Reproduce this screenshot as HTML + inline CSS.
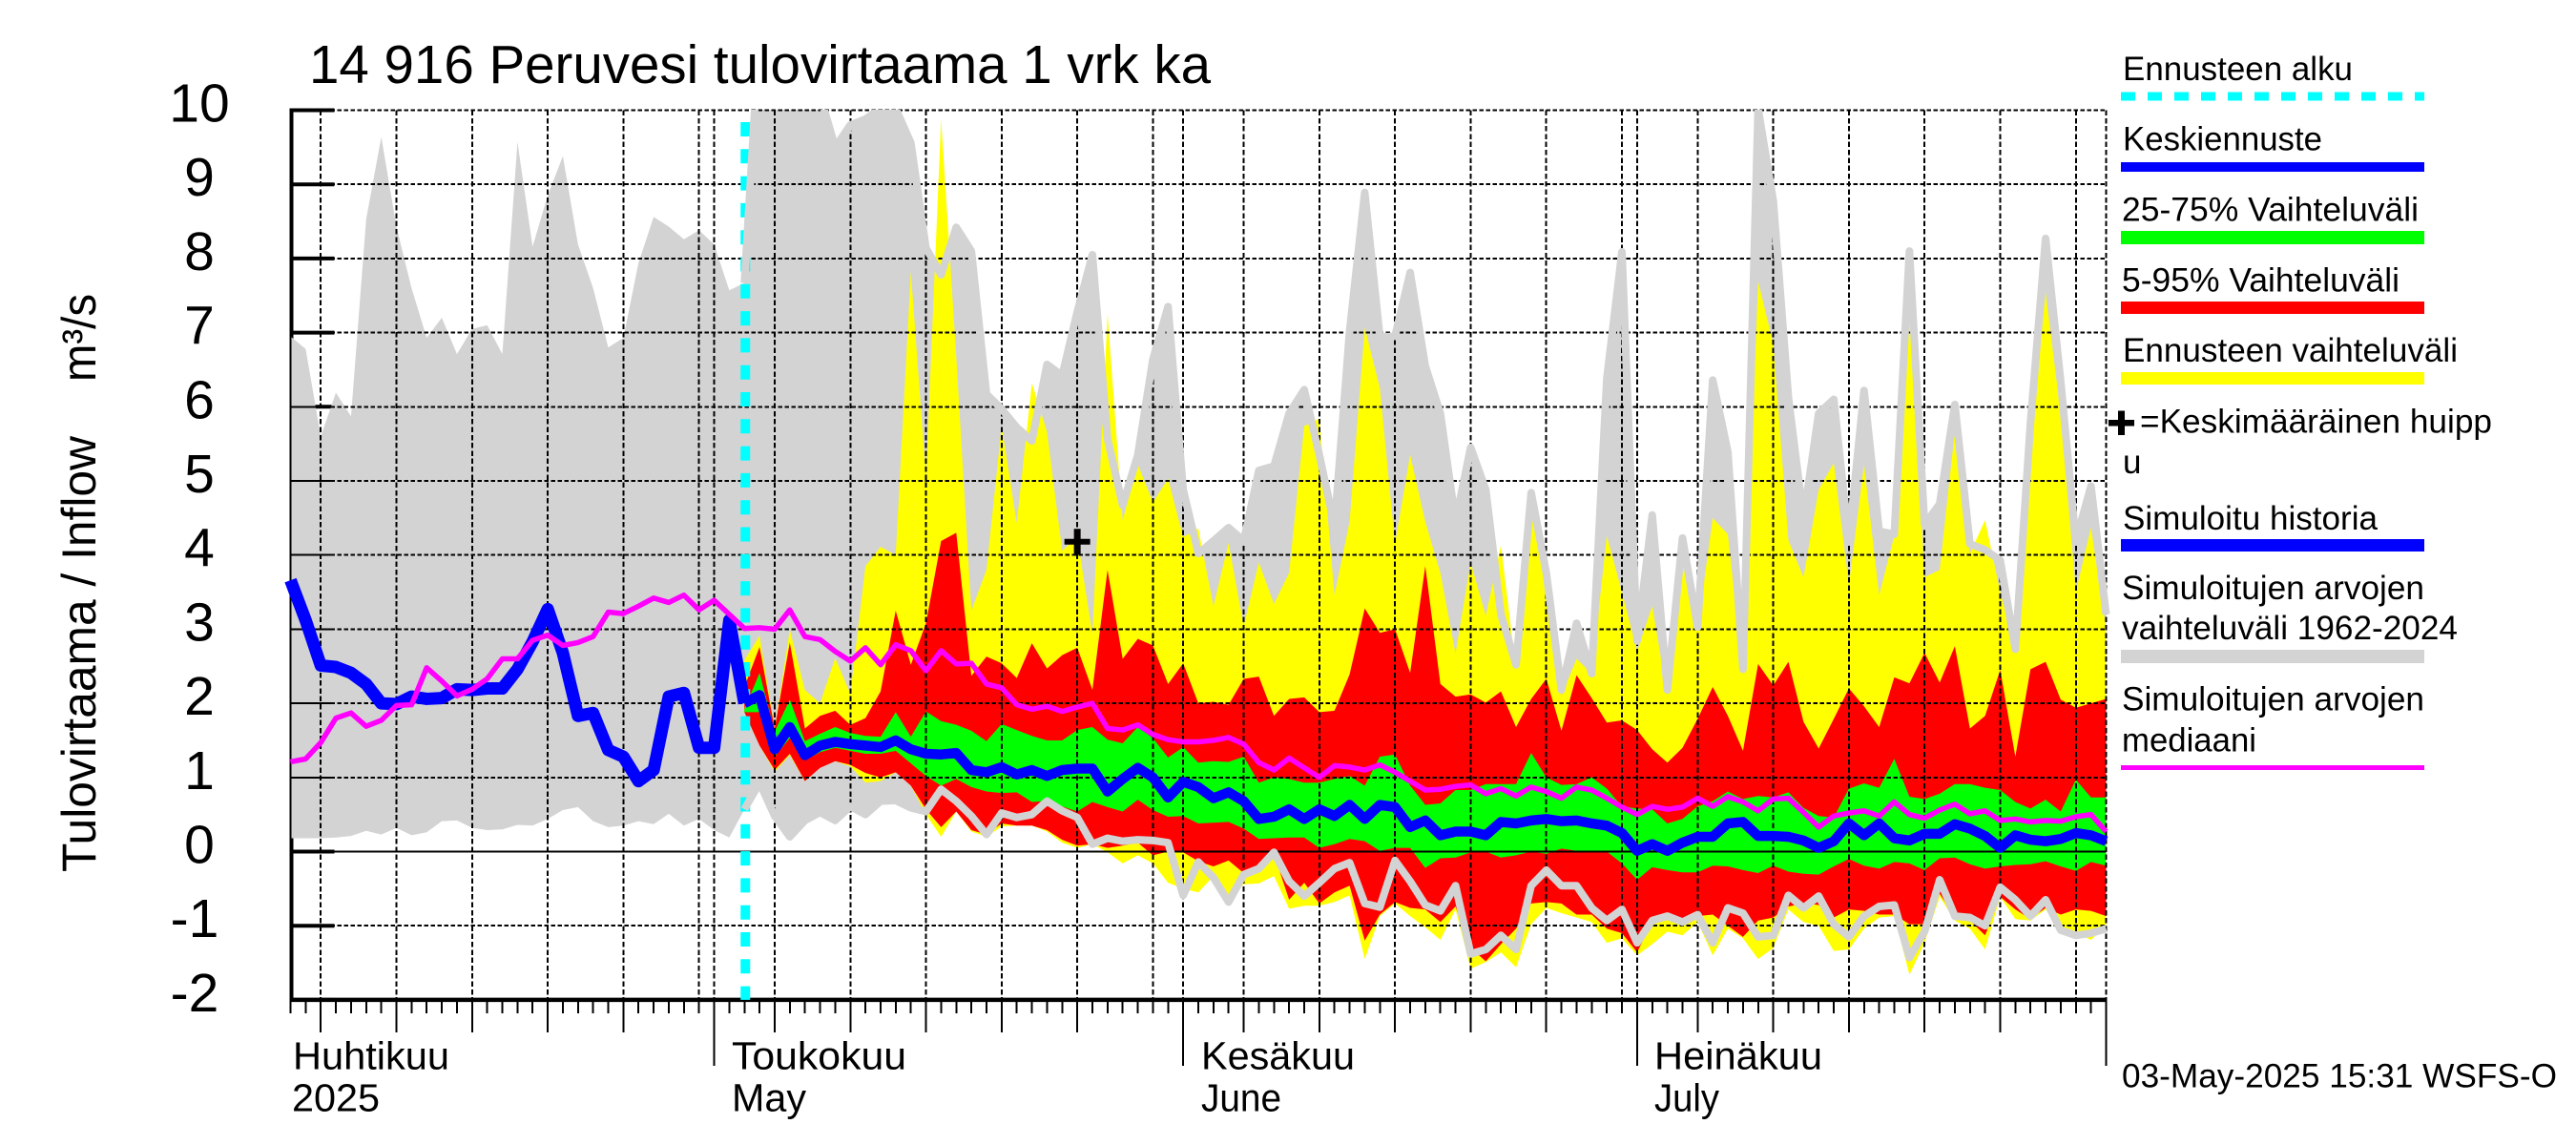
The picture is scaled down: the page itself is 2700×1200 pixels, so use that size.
<!DOCTYPE html>
<html lang="fi">
<head>
<meta charset="utf-8">
<title>14 916 Peruvesi tulovirtaama 1 vrk ka</title>
<style>
html,body{margin:0;padding:0;background:#fff;}
svg{display:block;}
text{font-family:"Liberation Sans",sans-serif;fill:#000;}
</style>
</head>
<body>
<svg id="chart" xmlns="http://www.w3.org/2000/svg" width="2700" height="1200" viewBox="0 0 2700 1200">
  <defs>
    <clipPath id="plot-clip"><rect x="304" y="115" width="1904" height="933"/></clipPath>
    <clipPath id="line-clip"><rect x="296" y="115" width="1918" height="933"/></clipPath>
  </defs>
  <rect x="0" y="0" width="2700" height="1200" fill="#fff"/>
  <text x="324" y="87" font-size="57" textLength="945" lengthAdjust="spacingAndGlyphs">14 916 Peruvesi tulovirtaama 1 vrk ka</text>
  <text transform="translate(100,914) rotate(-90)" font-size="50" textLength="457" lengthAdjust="spacingAndGlyphs">Tulovirtaama / Inflow</text>
  <text transform="translate(100,400) rotate(-90)" font-size="50" textLength="92" lengthAdjust="spacingAndGlyphs">m³/s</text>

  <g id="axis-under"></g>
  <g id="bands" clip-path="url(#plot-clip)"></g>
  <g id="grid"></g>
  <g id="ticks"></g>
  <g id="ylabels"></g>
  <g id="series"></g>

  <g>
    <text x="307" y="1120.5" font-size="41" textLength="164" lengthAdjust="spacingAndGlyphs">Huhtikuu</text>
    <text x="306" y="1164.5" font-size="41" textLength="92" lengthAdjust="spacingAndGlyphs">2025</text>
    <text x="767" y="1120.5" font-size="41" textLength="183" lengthAdjust="spacingAndGlyphs">Toukokuu</text>
    <text x="767" y="1164.5" font-size="41" textLength="78" lengthAdjust="spacingAndGlyphs">May</text>
    <text x="1259" y="1120.5" font-size="41" textLength="161" lengthAdjust="spacingAndGlyphs">Kesäkuu</text>
    <text x="1259" y="1164.5" font-size="41" textLength="84" lengthAdjust="spacingAndGlyphs">June</text>
    <text x="1734" y="1120.5" font-size="41" textLength="176" lengthAdjust="spacingAndGlyphs">Heinäkuu</text>
    <text x="1734" y="1164.5" font-size="41" textLength="68" lengthAdjust="spacingAndGlyphs">July</text>
  </g>

  <g>
    <g>
      <text x="2225" y="84" font-size="35" textLength="241" lengthAdjust="spacingAndGlyphs">Ennusteen alku</text>
      <line x1="2223" y1="101" x2="2541" y2="101" stroke="#00ffff" stroke-width="9" stroke-dasharray="15 13"/>
    </g>
    <g>
      <text x="2225" y="157.7" font-size="35" textLength="209" lengthAdjust="spacingAndGlyphs">Keskiennuste</text>
      <rect x="2223" y="170" width="318" height="10" fill="#0000ff"/>
    </g>
    <g>
      <text x="2224" y="231.5" font-size="35" textLength="311" lengthAdjust="spacingAndGlyphs">25-75% Vaihteluväli</text>
      <rect x="2223" y="242" width="318" height="14" fill="#00ff00"/>
    </g>
    <g>
      <text x="2224" y="305.4" font-size="35" textLength="291" lengthAdjust="spacingAndGlyphs">5-95% Vaihteluväli</text>
      <rect x="2223" y="316" width="318" height="13" fill="#ff0000"/>
    </g>
    <g>
      <text x="2225" y="379" font-size="35" textLength="351" lengthAdjust="spacingAndGlyphs">Ennusteen vaihteluväli</text>
      <rect x="2223" y="390" width="318" height="13" fill="#ffff00"/>
    </g>
    <g>
      <path d="M2220 430.5h7v9.5h10v6.500h-10v9.500h-7v-9.500h-10v-6.500h10z" fill="#000"/>
      <text x="2243" y="453.500" font-size="35" textLength="369" lengthAdjust="spacingAndGlyphs">=Keskimääräinen huipp</text>
      <text x="2225" y="496" font-size="35">u</text>
    </g>
    <g>
      <text x="2225" y="555" font-size="35" textLength="267" lengthAdjust="spacingAndGlyphs">Simuloitu historia</text>
      <rect x="2223" y="565" width="318" height="13" fill="#0000ff"/>
    </g>
    <g>
      <text x="2224" y="628" font-size="35" textLength="317" lengthAdjust="spacingAndGlyphs">Simuloitujen arvojen</text>
      <text x="2224" y="670" font-size="35" textLength="352" lengthAdjust="spacingAndGlyphs">vaihteluväli 1962-2024</text>
      <rect x="2223" y="681" width="318" height="14" fill="#d3d3d3"/>
    </g>
    <g>
      <text x="2224" y="744.500" font-size="35" textLength="317" lengthAdjust="spacingAndGlyphs">Simuloitujen arvojen</text>
      <text x="2224" y="787.600" font-size="35" textLength="141" lengthAdjust="spacingAndGlyphs">mediaani</text>
      <rect x="2223" y="802" width="318" height="5" fill="#ff00ff"/>
    </g>
  </g>
  <text x="2224" y="1139.500" font-size="35" textLength="456" lengthAdjust="spacingAndGlyphs">03-May-2025 15:31 WSFS-O</text>
</svg>

<script>
// Y axis tick values
const yTicks = [-2, -1, 0, 1, 2, 3, 4, 5, 6, 7, 8, 9, 10];
// Day index of forecast start (0 = 3 Apr 2025)
const forecastStartDay = 30;
// Mean peak marker
const peakDay = 52;
const peakValue = 4.18;

// Simulated range 1962-2024, all days
const grayUpper = [
6.95,6.78,5.6,6.19,5.87,8.53,9.64,8.43,7.6,6.93,
7.2,6.71,7.05,7.1,6.71,9.57,8.16,8.85,9.38,8.19,
7.6,6.8,6.93,7.94,8.56,8.43,8.26,8.38,8.19,7.57,
7.67,11.1,11,11,11,10.2,9.5,9.8,9.88,10.02,
10.02,9.56,8.14,7.78,8.42,8.1,6.17,5.97,5.72,5.54,
6.57,6.42,7.28,8.05,5.57,4.67,5.35,6.64,7.35,4.88,
4.02,4.19,4.37,4.19,5.14,5.2,5.91,6.23,5.35,4.39,
7.02,8.89,6.94,6.95,7.81,6.55,5.91,4.45,5.45,4.88,
3.2,2.52,4.84,3.76,2.18,3.08,2.4,6.38,8.09,2.84,
4.54,2.18,4.23,3.03,6.36,5.39,2.46,10.02,8.78,6.13,
4.49,5.91,6.1,4.19,6.22,4.32,4.28,8.1,4.41,4.69,
6.03,4.15,4.07,3.93,2.73,5.78,8.27,6.34,4.19,4.93,
3.2];
const grayLower = [
.18,.18,.18,.19,.21,.28,.23,.32,.22,.26,
.41,.42,.32,.29,.3,.36,.35,.44,.56,.6,
.41,.33,.35,.41,.37,.51,.35,.44,.29,.19,
.57,.93,.48,.2,.42,.53,.42,.61,.5,.68,
.69,.59,.54,.84,.68,.48,.23,.52,.46,.5,
.68,.55,.46,.1,.18,.14,.16,.15,.12,-.59,
-.14,-.35,-.68,-.31,-.23,-.01,-.4,-.6,-.42,-.23,
-.15,-.7,-.75,-.12,-.4,-.72,-.8,-.46,-1.38,-1.32,
-1.13,-1.32,-.46,-.25,-.46,-.46,-.76,-.93,-.78,-1.23,
-.93,-.87,-.95,-.85,-1.23,-.76,-.83,-1.15,-1.13,-.59,
-.76,-.6,-.98,-1.15,-.87,-.74,-.72,-1.43,-1.08,-.38,
-.87,-.89,-1,-.48,-.65,-.87,-.65,-1.06,-1.13,-1.1,
-1.04];
// Simulated median, all days
const medianValues = [
1.21,1.25,1.47,1.8,1.87,1.69,1.77,1.97,1.98,2.48,
2.3,2.1,2.19,2.33,2.6,2.6,2.85,2.92,2.78,2.82,
2.9,3.23,3.21,3.31,3.42,3.36,3.46,3.26,3.39,3.2,
3.01,3.02,3,3.26,2.9,2.86,2.7,2.57,2.75,2.52,
2.79,2.71,2.44,2.71,2.53,2.54,2.26,2.21,1.98,1.92,
1.96,1.89,1.95,2,1.66,1.64,1.71,1.58,1.51,1.48,
1.48,1.5,1.54,1.45,1.2,1.1,1.26,1.13,1,1.16,
1.14,1.1,1.17,1.07,.95,.83,.84,.88,.9,.78,
.85,.75,.87,.81,.72,.87,.83,.72,.6,.5,
.61,.57,.6,.72,.61,.74,.67,.55,.71,.72,
.53,.33,.48,.52,.55,.48,.67,.5,.45,.56,
.64,.51,.55,.42,.44,.4,.42,.41,.47,.5,
.27];
// Simulated history then mean forecast, all days
const meanValues = [
3.66,3.12,2.51,2.49,2.41,2.26,2,1.99,2.09,2.06,
2.07,2.19,2.18,2.2,2.2,2.46,2.83,3.27,2.68,1.83,
1.87,1.37,1.28,.95,1.1,2.09,2.14,1.4,1.4,3.12,
2,2.11,1.38,1.68,1.3,1.43,1.48,1.45,1.43,1.41,
1.5,1.38,1.32,1.31,1.33,1.1,1.07,1.14,1.04,1.1,
1.02,1.1,1.12,1.12,.81,.98,1.13,1,.73,.94,
.87,.72,.8,.68,.44,.47,.57,.44,.57,.48,
.63,.44,.63,.6,.33,.42,.22,.27,.27,.22,
.4,.38,.42,.44,.41,.42,.38,.35,.25,.01,
.1,.01,.12,.2,.2,.38,.4,.21,.21,.2,
.15,.05,.14,.38,.22,.38,.18,.15,.24,.24,
.37,.31,.21,.05,.22,.16,.14,.17,.25,.22,
.14];
// Forecast bands, from forecast start day onward
const yellowUpper = [
2.58,2.91,1.66,2.99,2.18,2.0,2.61,2.13,3.85,4.11,
4.0,7.82,5.05,9.88,6.68,3.25,3.8,5.74,4.43,6.32,
5.66,4.06,4.24,2.93,7.25,4.47,5.22,4.71,5.03,4.24,
4.36,3.31,4.16,3.04,3.9,3.34,3.76,5.74,5.84,3.46,
4.45,7.07,6.25,4.15,5.35,4.45,3.76,2.67,3.9,3.18,
4.13,2.45,4.62,3.6,2.1,2.6,2.4,4.26,3.5,2.7,
3.31,2.1,3.9,3.0,4.5,4.28,2.4,7.69,6.85,4.2,
3.7,4.88,5.24,3.6,5.22,3.46,4.26,7.3,3.7,3.8,
5.67,4.02,4.47,3.5,2.73,5.48,7.54,5.9,3.5,4.37,
3.0];
const yellowLower = [
1.88,1.43,1.08,1.3,.95,1.14,1.22,1.15,.93,.95,
1.07,.89,.5,.2,.54,.27,.2,.34,.35,.35,
.27,.12,.05,.1,-.01,-.16,-.05,-.16,-.42,-.5,
-.55,-.33,-.65,-.44,-.43,-.33,-.77,-.73,-.73,-.68,
-.59,-1.45,-.87,-.7,-.87,-1.02,-1.19,-.78,-1.58,-1.49,
-1.36,-1.56,-.98,-.76,-.83,-.89,-.95,-1.23,-1.17,-1.4,
-1.25,-1.08,-1.13,-.95,-1.4,-1.04,-1.17,-1.45,-1.3,-.78,
-.95,-1,-1.34,-1.32,-1.04,-.89,-.87,-1.66,-1.23,-.61,
-.93,-1.04,-1.32,-.61,-.91,-.93,-.78,-1.06,-1.1,-1.19,
-1];
const redUpper = [
2.22,2.76,1.66,2.82,1.66,1.83,1.9,1.71,1.8,2.16,
3.25,2.52,3.08,4.19,4.3,2.37,2.63,2.54,2.34,2.81,
2.47,2.65,2.75,2.18,3.8,2.6,2.87,2.78,2.26,2.54,
2.0,2.02,1.98,2.33,2.36,1.83,2.06,2.08,1.88,1.9,
2.39,3.28,2.95,3.0,2.41,3.85,2.26,2.09,2.12,2.01,
2.16,1.68,2.06,2.33,1.63,2.38,2.07,1.74,1.77,1.64,
1.38,1.2,1.4,1.79,2.22,1.83,1.36,2.53,2.24,2.56,
1.75,1.39,1.79,2.2,1.96,1.68,2.35,2.27,2.68,2.28,
2.77,1.66,1.83,2.45,1.28,2.46,2.56,2.05,1.94,2.0,
2.06];
const redLower = [
1.88,1.43,1.1,1.32,.95,1.13,1.22,1.17,1.06,1.0,
1.07,.89,.57,.33,.54,.29,.23,.38,.35,.35,
.29,.16,.08,.1,.05,.08,.12,-.05,0,-.01,
-.13,-.2,-.12,-.29,-.18,-.03,-.65,-.42,-.7,-.55,
-.46,-1.2,-.85,-.68,-.76,-.78,-.95,-.74,-1.3,-1.48,
-1.25,-1.04,-.7,-.68,-.7,-.85,-.85,-1.04,-1.1,-1.36,
-.95,-.89,-.91,-.87,-.85,-1,-1.15,-.93,-.89,-.74,
-.7,-.72,-.89,-.78,-.8,-.85,-.85,-.98,-.98,-.57,
-.89,-.93,-1.13,-.61,-.78,-.91,-.76,-.85,-.78,-.8,
-.87];
const greenUpper = [
1.92,2.41,1.62,2.05,1.49,1.59,1.68,1.6,1.56,1.55,
1.88,1.55,1.89,1.76,1.71,1.63,1.49,1.72,1.64,1.56,
1.5,1.5,1.64,1.68,1.51,1.46,1.68,1.53,1.27,1.41,
1.2,1.22,1.21,1.28,.93,1,.98,.93,.93,.98,
1.02,.89,1.28,1.31,.89,.63,.65,.83,.83,.91,
.91,.91,1.33,1,.9,.91,1,.85,.61,.58,
.57,.38,.44,.61,.68,.81,.71,.75,.73,.8,
.59,.48,.46,.85,.92,.86,1.25,.74,.71,.78,
.91,.91,.86,.83,.67,.58,.7,.54,.97,.73,
.73];
const greenLower = [
1.88,1.88,1.28,1.53,1.23,1.34,1.4,1.36,1.32,1.32,
1.36,1.19,1.02,.89,.98,.87,.81,.79,.8,.67,
.68,.61,.54,.67,.6,.54,.7,.56,.47,.48,
.38,.39,.4,.31,.17,.18,.19,.19,.05,.1,
.17,.14,.01,.05,.05,-.22,-.09,-.08,-.01,0,
-.08,-.05,0,-.03,.04,.01,0,0,-.16,-.38,
-.21,-.25,-.28,-.28,-.19,-.2,-.25,-.29,-.19,-.27,
-.3,-.31,-.2,-.1,-.19,-.23,-.14,-.16,-.25,-.09,
-.08,-.17,-.23,-.2,-.18,-.17,-.13,-.2,-.26,-.14,
-.19];

const SVGNS = 'http://www.w3.org/2000/svg';
const plotLeft = 304.5, plotRight = 2207.5, dayWidth = (plotRight - plotLeft) / 120;
const yZero = 892.5, unitHeight = 77.7;
function xScale(day) { return plotLeft + dayWidth * day; }
function yScale(value) { return yZero - unitHeight * value; }
function dateOf(day) { return new Date(Date.UTC(2025, 3, 3 + day)); }

function make(tag, parent, attrs) {
  const el = document.createElementNS(SVGNS, tag);
  for (const k in attrs) el.setAttribute(k, attrs[k]);
  parent.appendChild(el);
  return el;
}
function lineD(values, startDay) {
  return values.map((v, i) => (i ? 'L' : 'M') + xScale(startDay + i).toFixed(2) + ' ' + yScale(v).toFixed(2)).join('');
}
function bandD(upper, lower, startDay) {
  let d = lineD(upper, startDay);
  for (let i = lower.length - 1; i >= 0; i--) {
    d += 'L' + xScale(startDay + i).toFixed(2) + ' ' + yScale(lower[i]).toFixed(2);
  }
  return d + 'Z';
}

const axisLayer = document.getElementById('axis-under');
const bandLayer = document.getElementById('bands');
const gridLayer = document.getElementById('grid');
const tickLayer = document.getElementById('ticks');
const labelLayer = document.getElementById('ylabels');
const seriesLayer = document.getElementById('series');
const yTop = yScale(10), yBottom = yScale(-2);

// thick axis under the range band
const leftAxis = make('line', axisLayer, {x1: plotLeft + 1, y1: yTop - 2, x2: plotLeft + 1, y2: yBottom, stroke: '#000', 'stroke-width': 4});


yTicks.forEach(function (t) {
  const tick = make('line', axisLayer, {x1: plotLeft, y1: yScale(t), x2: plotLeft + 46, y2: yScale(t), stroke: '#000', 'stroke-width': 4});
  
  
  const label = make('text', labelLayer, {x: t < 0 ? 204 : 209, y: yScale(t) + 12, 'font-size': 57, 'text-anchor': 'middle'});
  label.textContent = String(t);
  
  
});

// bands
const grayBand = make('path', bandLayer, {d: bandD(grayUpper, grayLower, 0), fill: '#d3d3d3'});


const yellowBand = make('path', bandLayer, {d: bandD(yellowUpper, yellowLower, forecastStartDay), fill: '#ffff00'});


const redBand = make('path', bandLayer, {d: bandD(redUpper, redLower, forecastStartDay), fill: '#ff0000'});


const greenBand = make('path', bandLayer, {d: bandD(greenUpper, greenLower, forecastStartDay), fill: '#00ff00'});



// horizontal grid
yTicks.forEach(function (t) {
  if (t === -2) return;
  const g = make('line', gridLayer, {x1: plotLeft, y1: yScale(t), x2: plotRight, y2: yScale(t), stroke: '#000', 'stroke-width': 2, 'shape-rendering': 'crispEdges'});
  if (t !== 0) g.setAttribute('stroke-dasharray', '4.5 2.5');
  
  
  const start = make('line', gridLayer, {x1: plotLeft, y1: yScale(t), x2: plotLeft + 46, y2: yScale(t), stroke: '#000', 'stroke-width': 2, 'shape-rendering': 'crispEdges'});
  
  
});
const thinLeft = make('line', gridLayer, {x1: plotLeft, y1: yTop, x2: plotLeft, y2: yBottom, stroke: '#000', 'stroke-width': 2, 'shape-rendering': 'crispEdges'});



// vertical grid and x ticks from the calendar
for (let day = 0; day <= 120; day++) {
  const dom = dateOf(day).getUTCDate();
  const x = xScale(day);
  if (dom % 5 === 0 || dom === 1) {
    const v = make('line', gridLayer, {x1: x, y1: yTop, x2: x, y2: yBottom, stroke: '#000', 'stroke-width': 2, 'stroke-dasharray': '5.5 2.8', 'shape-rendering': 'crispEdges'});
    
    
  }
  let len = 14;
  if (dom === 1) len = 69;
  else if (dom % 5 === 0 && dom !== 30) len = 34;
  const tk = make('line', tickLayer, {x1: x, y1: yBottom, x2: x, y2: yBottom + len, stroke: '#000', 'stroke-width': 2, 'shape-rendering': 'crispEdges'});
  
  
}
const bottomAxis = make('line', tickLayer, {x1: plotLeft, y1: yBottom, x2: plotRight, y2: yBottom, stroke: '#000', 'stroke-width': 4.5});



// forecast start marker
const startLine = make('line', seriesLayer, {x1: xScale(forecastStartDay) + 1, y1: yTop + 12.5, x2: xScale(forecastStartDay) + 1, y2: yBottom, stroke: '#00ffff', 'stroke-width': 10, 'stroke-dasharray': '15 13.3'});



// thick range boundaries over the forecast bands
const lineClip = make('g', seriesLayer, {'clip-path': 'url(#line-clip)'});
const grayTop = make('path', lineClip, {d: lineD(grayUpper.slice(forecastStartDay), forecastStartDay), fill: 'none', stroke: '#d3d3d3', 'stroke-width': 8, 'stroke-linejoin': 'round'});


const grayBottom = make('path', lineClip, {d: lineD(grayLower.slice(forecastStartDay), forecastStartDay), fill: 'none', stroke: '#d3d3d3', 'stroke-width': 8, 'stroke-linejoin': 'round'});



// blue history and forecast
const historyLine = make('path', seriesLayer, {d: lineD(meanValues.slice(0, forecastStartDay + 1), 0), fill: 'none', stroke: '#0000ff', 'stroke-width': 13, 'stroke-linejoin': 'round'});


const forecastLine = make('path', seriesLayer, {d: lineD(meanValues.slice(forecastStartDay), forecastStartDay), fill: 'none', stroke: '#0000ff', 'stroke-width': 10.5, 'stroke-linejoin': 'round'});



// median
const medianLine = make('path', seriesLayer, {d: lineD(medianValues, 0), fill: 'none', stroke: '#ff00ff', 'stroke-width': 5.5, 'stroke-linejoin': 'round'});



// mean peak marker
const px = xScale(peakDay), py = yScale(peakValue);
const peak = make('path', seriesLayer, {d: 'M' + (px - 3.5) + ' ' + (py - 13.5) + 'h7v10.5h10v6h-10v10.500h-7v-10.500h-10v-6h10z', fill: '#000'});


</script>
</body>
</html>
